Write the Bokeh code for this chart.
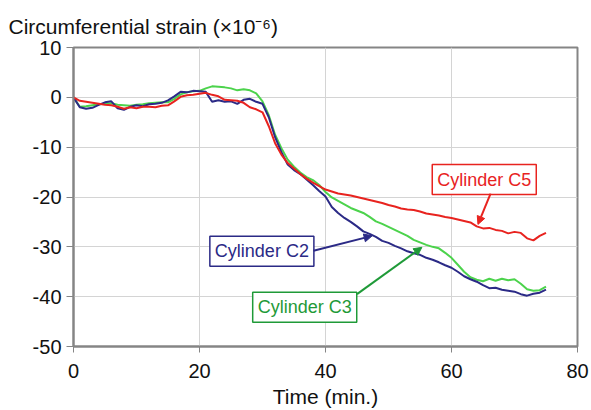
from bokeh.plotting import figure
from bokeh.models import Range1d, FixedTicker, Label, Arrow, NormalHead
from bokeh.embed import file_html
from bokeh.resources import INLINE

# Time axis (minutes) shared by all three gauges
time_min = list(range(0, 76))

# Circumferential strain (x10^-6), cylinder C2
strain_c2 = [0, -2.0, -2.3, -2.1, -1.5, -1.0, -0.8, -2.2, -2.5, -1.9,
             -1.6, -1.8, -1.4, -1.3, -1.1, -0.6, 0.2, 1.1, 1.0, 1.3,
             1.2, 1.1, -0.9, -0.6, -0.9, -0.8, -1.3, -0.5, -0.3, -0.9,
             -1.3, -4.0, -8.0, -11.0, -13.5, -14.6, -15.4, -16.5, -17.6, -18.8,
             -19.9, -22.0, -23.2, -24.2, -25.0, -25.9, -26.9, -27.4, -28.0, -28.8,
             -29.2, -29.8, -30.3, -30.9, -31.3, -31.6, -32.2, -32.6, -33.1, -33.7,
             -34.2, -35.0, -35.9, -36.5, -37.0, -37.7, -38.3, -38.2, -38.6, -38.8,
             -39.0, -39.5, -39.8, -39.4, -39.2, -38.6]

# Circumferential strain (x10^-6), cylinder C3
strain_c3 = [0, -1.9, -1.8, -1.6, -1.4, -1.3, -1.2, -1.5, -1.6, -1.7,
             -1.5, -1.4, -1.2, -1.1, -1.0, -1.0, -0.3, 0.6, 1.0, 1.2,
             1.3, 1.8, 2.2, 2.1, 2.0, 1.8, 1.4, 1.6, 1.4, 0.8,
             -0.8, -3.6, -7.5, -10.2, -12.5, -13.9, -15.1, -16.0, -16.6, -17.6,
             -19.0, -20.1, -20.8, -21.5, -22.2, -22.7, -23.2, -24.0, -24.9, -25.4,
             -26.0, -26.6, -27.2, -27.8, -28.6, -29.1, -29.6, -30.0, -30.3, -31.2,
             -32.2, -33.6, -35.0, -36.1, -36.6, -36.9, -36.4, -36.8, -36.4, -36.7,
             -36.5, -37.4, -38.5, -38.8, -38.7, -38.0]

# Circumferential strain (x10^-6), cylinder C5
strain_c5 = [0, -0.7, -0.9, -1.1, -1.3, -1.5, -1.6, -1.9, -2.3, -2.0,
             -2.2, -1.9, -1.9, -2.0, -1.7, -1.6, -0.8, 0.1, 0.4, 0.5,
             0.7, 0.9, 0.5, 0.2, -0.5, -0.6, -0.7, -1.1, -2.0, -2.4,
             -3.0, -5.8, -9.2, -11.5, -13.2, -14.3, -15.4, -16.3, -17.1, -17.8,
             -18.5, -18.9, -19.3, -19.5, -19.7, -20.0, -20.3, -20.6, -20.9, -21.2,
             -21.6, -21.9, -22.3, -22.5, -22.6, -22.9, -23.3, -23.5, -23.7, -24.0,
             -24.2, -24.5, -24.8, -25.1, -25.9, -26.3, -26.2, -26.6, -26.8, -27.3,
             -27.0, -27.2, -28.3, -28.7, -27.8, -27.2]

x_ticks = [0, 20, 40, 60, 80]
y_ticks = [10, 0, -10, -20, -30, -40, -50]

FONT = "Liberation Sans"
RED = "#e8231f"
BLUE = "#2b2a86"
GREEN = "#4cd34c"
GREEN_DARK = "#1f9a38"

p = figure(width=591, height=410, output_backend="svg", toolbar_location=None,
           x_range=Range1d(0, 80), y_range=Range1d(-50, 10),
           min_border_left=73, min_border_right=14,
           min_border_top=47, min_border_bottom=64)

p.background_fill_color = "white"
p.border_fill_color = "white"
p.outline_line_color = "#858585"
p.outline_line_width = 2

# heading above the plot, pulled left to the canvas edge
p.title.text = "Circumferential strain (×10⁻⁶)"
p.title.align = "left"
p.title.vertical_align = "top"
p.title.offset = -65
p.title.text_font = FONT
p.title.text_font_size = "21px"
p.title.text_font_style = "normal"
p.title.text_color = "#111111"
p.title.standoff = 15

for ax in (p.xaxis[0], p.yaxis[0]):
    ax.axis_line_color = "#858585"
    ax.axis_line_width = 2
    ax.major_tick_line_color = "#858585"
    ax.major_tick_line_width = 1
    ax.minor_tick_line_color = None
    ax.major_tick_in = 0
    ax.major_label_text_font = FONT
    ax.major_label_text_font_size = "20px"
    ax.major_label_text_color = "#111111"

p.xaxis.ticker = FixedTicker(ticks=x_ticks)
p.yaxis.ticker = FixedTicker(ticks=y_ticks)
p.yaxis.major_label_overrides = {v: str(v) for v in y_ticks}
p.xaxis.major_label_overrides = {v: str(v) for v in x_ticks}
p.xaxis.major_tick_out = 6
p.yaxis.major_tick_out = 7
p.xaxis.major_label_standoff = 11
p.yaxis.major_label_standoff = 5

p.xaxis.axis_label = "Time (min.)"
p.xaxis.axis_label_text_font = FONT
p.xaxis.axis_label_text_font_size = "21px"
p.xaxis.axis_label_text_font_style = "normal"
p.xaxis.axis_label_text_color = "#111111"
p.xaxis.axis_label_standoff = 4

p.xgrid.grid_line_color = "#d4d4d4"
p.ygrid.grid_line_color = "#d4d4d4"
p.xgrid.grid_line_width = 1
p.ygrid.grid_line_width = 1

# strain histories
p.line(time_min, strain_c3, line_color=GREEN, line_width=2)
p.line(time_min, strain_c2, line_color=BLUE, line_width=2)
p.line(time_min, strain_c5, line_color=RED, line_width=2)

# callout boxes
callouts = [
    ("Cylinder C5", 65.2, -16.5, RED, RED),
    ("Cylinder C2", 29.9, -30.9, BLUE, BLUE),
    ("Cylinder C3", 36.7, -42.1, GREEN_DARK, GREEN_DARK),
]
for text, cx, cy, tcol, bcol in callouts:
    p.add_layout(Label(x=cx, y=cy, text=text, text_align="center",
                       text_baseline="middle", text_font=FONT,
                       text_font_size="18px", text_color=tcol,
                       background_fill_color="white", border_line_color=bcol,
                       border_line_width=1.5, padding=5))

# pointer arrows from each callout to its curve
pointers = [
    (66.2, -19.3, 64.2, -25.5, RED),
    (38.1, -30.8, 47.4, -27.8, BLUE),
    (45.0, -39.5, 55.3, -30.1, GREEN_DARK),
]
for xs, ys, xe, ye, col in pointers:
    p.add_layout(Arrow(x_start=xs, y_start=ys, x_end=xe, y_end=ye,
                       line_color=col, line_width=2,
                       end=NormalHead(size=8, fill_color=col, line_color=col)))

open("out.html", "w").write(file_html(p, INLINE))
